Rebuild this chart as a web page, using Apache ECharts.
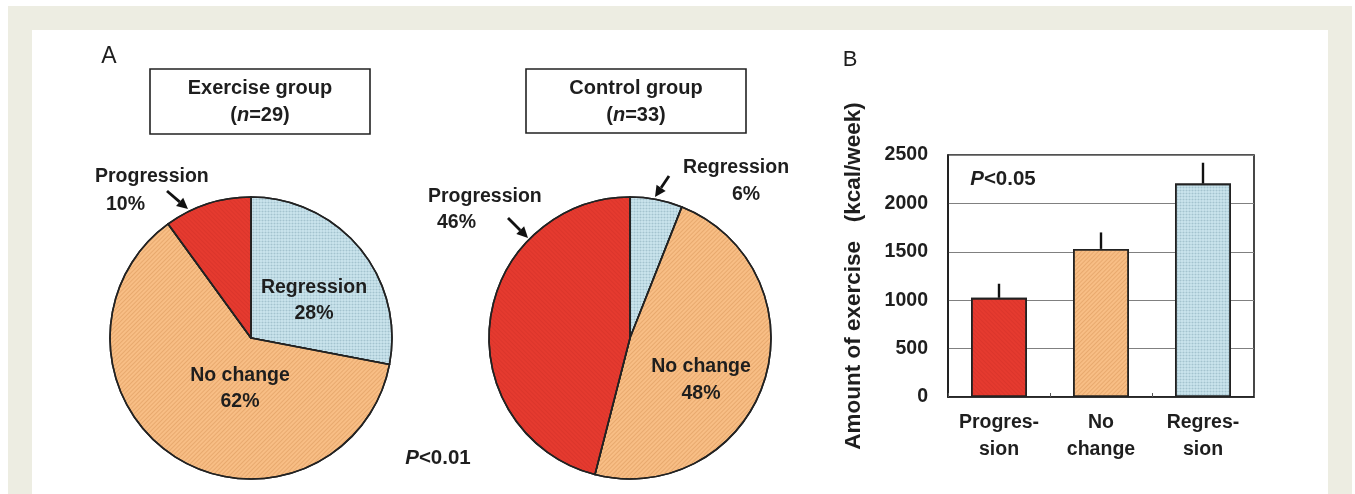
<!DOCTYPE html>
<html>
<head>
<meta charset="utf-8">
<script src="https://cdn.jsdelivr.net/npm/echarts@6/dist/echarts.min.js"></script>
<style>
  html, body { margin: 0; padding: 0; background: #ffffff; }
  #frame { position: absolute; left: 8px; top: 6px; width: 1344px; height: 488px; background: #EDEDE2; }
  #panel { position: absolute; left: 32px; top: 30px; width: 1296px; height: 464px; background: #ffffff; }
  #chart { position: absolute; left: 0; top: 0; width: 1355px; height: 494px; }
</style>
</head>
<body>
<div id="frame"></div>
<div id="panel"></div>
<div id="chart"></div>
<script>
// Outcome categories (clockwise from 12 o'clock in each pie)
const outcomeNames = ['Regression', 'No change', 'Progression'];
// Share of patients per outcome, %
const exerciseShare = [28, 62, 10];
const controlShare = [6, 48, 46];
// Group sizes
const groupTitles = ['Exercise group', 'Control group'];
const groupN = [29, 33];
// Panel B: amount of exercise by outcome (kcal/week)
const barCategories = ['Progres-\nsion', 'No\nchange', 'Regres-\nsion'];
const barMeans = [1025, 1530, 2205];
const barUpper = [1170, 1700, 2420];
const yTicks = [0, 500, 1000, 1500, 2000, 2500];

const FONT = "'Liberation Sans', Arial, Helvetica, sans-serif";
const INK = '#1e1e1e';

const fills = {
  'Regression': '#CDE7EF',
  'No change': '#F8BE85',
  'Progression': '#E53A2F'
};
const decals = {
  'Regression': { symbol: 'circle', symbolSize: 0.7, dashArrayX: [3, 0], dashArrayY: [3, 0], color: 'rgba(90,130,150,0.35)' },
  'No change': { symbol: 'rect', symbolSize: 1, dashArrayX: [1, 0], dashArrayY: [1, 2], rotation: -Math.PI / 4, color: 'rgba(190,115,50,0.28)' },
  'Progression': { symbol: 'rect', symbolSize: 1, dashArrayX: [1, 0], dashArrayY: [1, 2], rotation: Math.PI / 4, color: 'rgba(150,20,15,0.12)' }
};

function pieData(shares) {
  return outcomeNames.map((name, i) => ({
    name: name,
    value: shares[i],
    itemStyle: { color: fills[name], decal: decals[name] }
  }));
}

function txt(text, x, y, size, opts) {
  opts = opts || {};
  return {
    type: 'text', z: 100,
    style: {
      text: text, x: x, y: y,
      fontFamily: FONT, fontSize: size,
      fontWeight: opts.weight || 'bold',
      fontStyle: 'normal',
      fill: INK,
      align: opts.align || 'center',
      verticalAlign: 'middle',
      rich: {
        i: { fontFamily: FONT, fontSize: size, fontWeight: opts.weight || 'bold', fontStyle: 'italic', fill: INK },
        r: { fontFamily: FONT, fontSize: size, fontWeight: opts.weight || 'bold', fontStyle: 'normal', fill: INK }
      }
    }
  };
}

function arrow(x1, y1, x2, y2) {
  const a = Math.atan2(y2 - y1, x2 - x1);
  const L = 11, W = 5.5;
  const bx = x2 - L * Math.cos(a), by = y2 - L * Math.sin(a);
  return [
    { type: 'line', z: 100, shape: { x1: x1, y1: y1, x2: bx, y2: by }, style: { stroke: '#111', lineWidth: 2.8 } },
    { type: 'polygon', z: 100, shape: { points: [[x2, y2], [bx + W * Math.sin(a), by - W * Math.cos(a)], [bx - W * Math.sin(a), by + W * Math.cos(a)]] }, style: { fill: '#111' } }
  ];
}

function titleBox(x, y, w, h, gi) {
  return [
    { type: 'rect', z: 90, shape: { x: x, y: y, width: w, height: h }, style: { fill: '#fff', stroke: '#222', lineWidth: 1.6 } },
    txt('{r|' + groupTitles[gi] + '}', x + w / 2, y + 19, 20),
    txt('{r|(}{i|n}{r|=' + groupN[gi] + ')}', x + w / 2, y + 46, 20)
  ];
}

const graphics = [].concat(
  [txt('A', 109, 57, 23, { weight: 'normal' }), txt('B', 850, 60, 22, { weight: 'normal' })],
  titleBox(150, 69, 220, 65, 0),
  titleBox(526, 69, 220, 64, 1),
  // Exercise group labels
  [
    txt(outcomeNames[2], 95, 177, 19.5, { align: 'left' }),
    txt(exerciseShare[2] + '%', 106, 205, 19.5, { align: 'left' }),
    txt(outcomeNames[0], 314, 288, 19.5),
    txt(exerciseShare[0] + '%', 314, 314, 19.5),
    txt(outcomeNames[1], 240, 376, 19.5),
    txt(exerciseShare[1] + '%', 240, 402, 19.5),
    txt('{i|P}{r|<0.01}', 438, 458, 20.5)
  ],
  arrow(167, 191, 188, 209),
  // Control group labels
  [
    txt(outcomeNames[0], 736, 168, 19.5),
    txt(controlShare[0] + '%', 746, 195, 19.5),
    txt(outcomeNames[2], 428, 197, 19.5, { align: 'left' }),
    txt(controlShare[2] + '%', 437, 223, 19.5, { align: 'left' }),
    txt(outcomeNames[1], 701, 367, 19.5),
    txt(controlShare[1] + '%', 701, 394, 19.5)
  ],
  arrow(669, 176, 655, 197),
  arrow(508, 218, 528, 238),
  [txt('{i|P}{r|<0.05}', 1003, 179, 20.5)]
);

const chart = echarts.init(document.getElementById('chart'), null, { renderer: 'canvas' });

const pieCommon = {
  type: 'pie',
  radius: 141,
  startAngle: 90,
  clockwise: true,
  silent: true,
  label: { show: false },
  labelLine: { show: false },
  emphasis: { disabled: true },
  itemStyle: { borderColor: '#222', borderWidth: 1.6 }
};

chart.setOption({
  animation: false,
  backgroundColor: 'transparent',
  graphic: graphics,
  grid: {
    left: 948, top: 155, width: 306, height: 242,
    show: true, borderColor: '#1a1a1a', borderWidth: 1.6, backgroundColor: 'transparent'
  },
  xAxis: {
    type: 'category',
    data: barCategories,
    axisLine: { lineStyle: { color: '#1a1a1a', width: 1.6 } },
    axisTick: { show: true, inside: true, length: 4, interval: 0, lineStyle: { color: '#555' } },
    axisLabel: { color: INK, fontFamily: FONT, fontWeight: 'bold', fontSize: 19.5, lineHeight: 27, margin: 12, interval: 0, hideOverlap: false }
  },
  yAxis: {
    type: 'value',
    min: yTicks[0], max: yTicks[yTicks.length - 1], interval: yTicks[1] - yTicks[0],
    name: 'Amount of exercise   (kcal/week)',
    nameLocation: 'middle', nameRotate: 90, nameGap: 83,
    nameTextStyle: { color: INK, fontFamily: FONT, fontWeight: 'bold', fontSize: 22.5 },
    axisLine: { show: true, lineStyle: { color: '#1a1a1a', width: 1.6 } },
    axisTick: { show: false },
    axisLabel: { color: INK, fontFamily: FONT, fontWeight: 'bold', fontSize: 19.5, margin: 20, formatter: v => String(v) },
    splitLine: { lineStyle: { color: '#808080', width: 1.2 } }
  },
  series: [
    Object.assign({}, pieCommon, { name: groupTitles[0], center: [251, 338], data: pieData(exerciseShare) }),
    Object.assign({}, pieCommon, { name: groupTitles[1], center: [630, 338], data: pieData(controlShare) }),
    {
      type: 'bar',
      barWidth: 56,
      silent: true,
      data: barMeans.map((v, i) => {
        const name = outcomeNames[[2, 1, 0][i]];
        return { value: v, itemStyle: { color: fills[name], decal: decals[name], borderColor: '#222', borderWidth: 1.6 } };
      }),
      z: 3
    },
    {
      type: 'custom',
      silent: true,
      z: 4,
      data: barMeans.map((v, i) => [i, v, barUpper[i]]),
      renderItem: function (params, api) {
        const p0 = api.coord([api.value(0), api.value(1)]);
        const p1 = api.coord([api.value(0), api.value(2)]);
        return { type: 'line', shape: { x1: p0[0], y1: p0[1], x2: p1[0], y2: p1[1] }, style: { stroke: '#111', lineWidth: 2.4 } };
      }
    }
  ]
});
</script>
</body>
</html>
